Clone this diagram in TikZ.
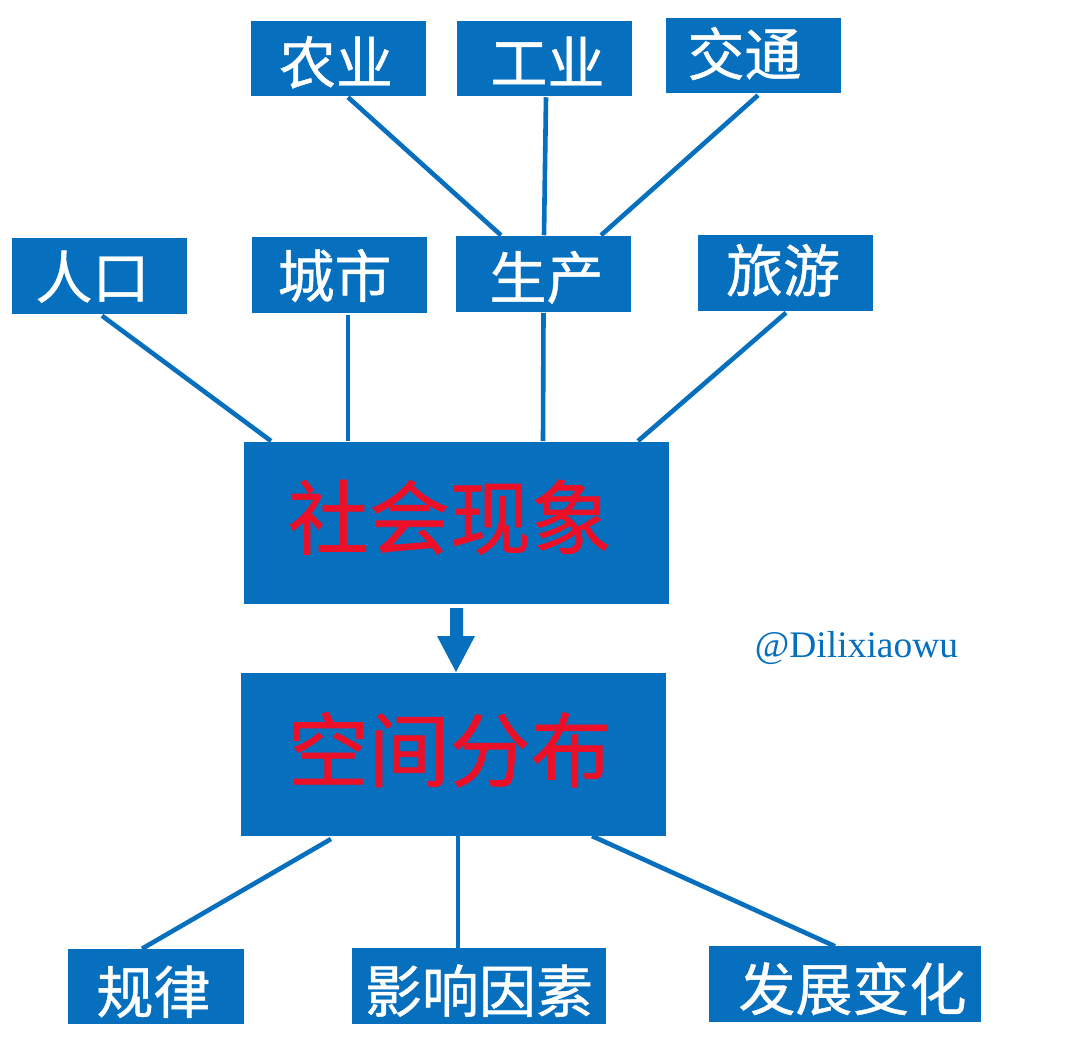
\documentclass[tikz,border=0pt]{standalone}
\usepackage{fontspec}
\setmainfont{Liberation Serif}
\newfontfamily\cjk{Noto Sans CJK SC}[FakeBold=0.8]
\definecolor{boxblue}{RGB}{6,111,190}
\definecolor{markred}{RGB}{235,16,40}
\newcommand\tshift[3]{\hspace*{#1pt}\raisebox{\dimexpr#2pt-0.3em\relax}{#3}\hspace*{-#1pt}}
\tikzset{
  x=1pt,y=-1pt,
  smallbox/.style={fill=boxblue,text=white,inner sep=0pt,outer sep=0pt,minimum height=75.5pt,text height=0.88em,text depth=0.12em,font=\cjk\fontsize{57}{57}\selectfont},
  bigbox/.style={fill=boxblue,text=markred,inner sep=0pt,outer sep=0pt,minimum width=425pt,minimum height=162pt,text height=0.88em,text depth=0.12em,font=\cjk\fontsize{81}{81}\selectfont},
  link/.style={draw=boxblue,line width=4.6pt}
}
\begin{document}
\begin{tikzpicture}
\useasboundingbox (0,0) rectangle (1086,1058);
\fill[white] (0,0) rectangle (1086,1058);
\node[smallbox,minimum width=175pt] (nong) at (338.5,58.5) {\tshift{-2.5}{-4.5}{农业}};
\node[smallbox,minimum width=175pt] (gong) at (544.5,58.5) {\tshift{3}{-4.5}{工业}};
\node[smallbox,minimum width=175pt] (jiao) at (753.5,55.5) {\tshift{-9}{1}{交通}};
\node[smallbox,minimum width=175pt] (ren) at (99.5,276) {\tshift{-7}{-1.5}{人口}};
\node[smallbox,minimum width=175pt] (cheng) at (339.5,275) {\tshift{-5}{-1.5}{城市}};
\node[smallbox,minimum width=175pt] (sheng) at (543.5,274) {\tshift{3}{-4}{生产}};
\node[smallbox,minimum width=175pt] (lv) at (785.5,273) {\tshift{-2.5}{2}{旅游}};
\node[bigbox] (she) at (456.5,523) {\tshift{-6.5}{3}{社会现象}};
\node[bigbox,minimum height=163pt] (kong) at (453.5,754.5) {\tshift{-4}{2}{空间分布}};
\node[smallbox,minimum width=176pt] (gui) at (156,986.5) {\tshift{-2.5}{-6}{规律}};
\node[smallbox,minimum width=254pt] (ying) at (479,986) {\tshift{0}{-5.5}{影响因素}};
\node[smallbox,minimum width=272pt] (fa) at (845,984) {\tshift{7.5}{-5.5}{发展变化}};
\draw[link] ([xshift=97pt,yshift=-1pt]nong.south west) -- ([xshift=45pt,yshift=1pt]sheng.north west);
\draw[link] ([xshift=89pt,yshift=-1pt]gong.south west) -- ([xshift=88pt,yshift=1pt]sheng.north west);
\draw[link] ([xshift=92pt,yshift=-2pt]jiao.south west) -- ([xshift=145pt,yshift=1pt]sheng.north west);
\draw[link] ([xshift=90pt,yshift=-2pt]ren.south west) -- ([xshift=27pt,yshift=1pt]she.north west);
\draw[link] ([xshift=96pt,yshift=-2pt]cheng.south west) -- ([xshift=104pt,yshift=1pt]she.north west);
\draw[link] ([yshift=-1pt]sheng.south) -- ([xshift=299pt,yshift=1pt]she.north west);
\draw[link] ([xshift=88pt,yshift=-2pt]lv.south west) -- ([xshift=394pt,yshift=1pt]she.north west);
\draw[link] ([xshift=90pt,yshift=-3pt]kong.south west) -- ([xshift=74pt]gui.north west);
\draw[link] ([xshift=217pt]kong.south west) -- ([xshift=106pt]ying.north west);
\draw[link] ([xshift=351pt]kong.south west) -- ([xshift=126pt]fa.north west);
\fill[boxblue] (450,608) -- (463,608) -- (463,636) -- (475,636) -- (456,672) -- (437,636) -- (450,636) -- cycle;
\node[text=boxblue,inner sep=0pt,font=\fontsize{37.5}{37.5}\selectfont] (mark) at (856.5,648) {@Dilixiaowu};
\end{tikzpicture}
\end{document}
